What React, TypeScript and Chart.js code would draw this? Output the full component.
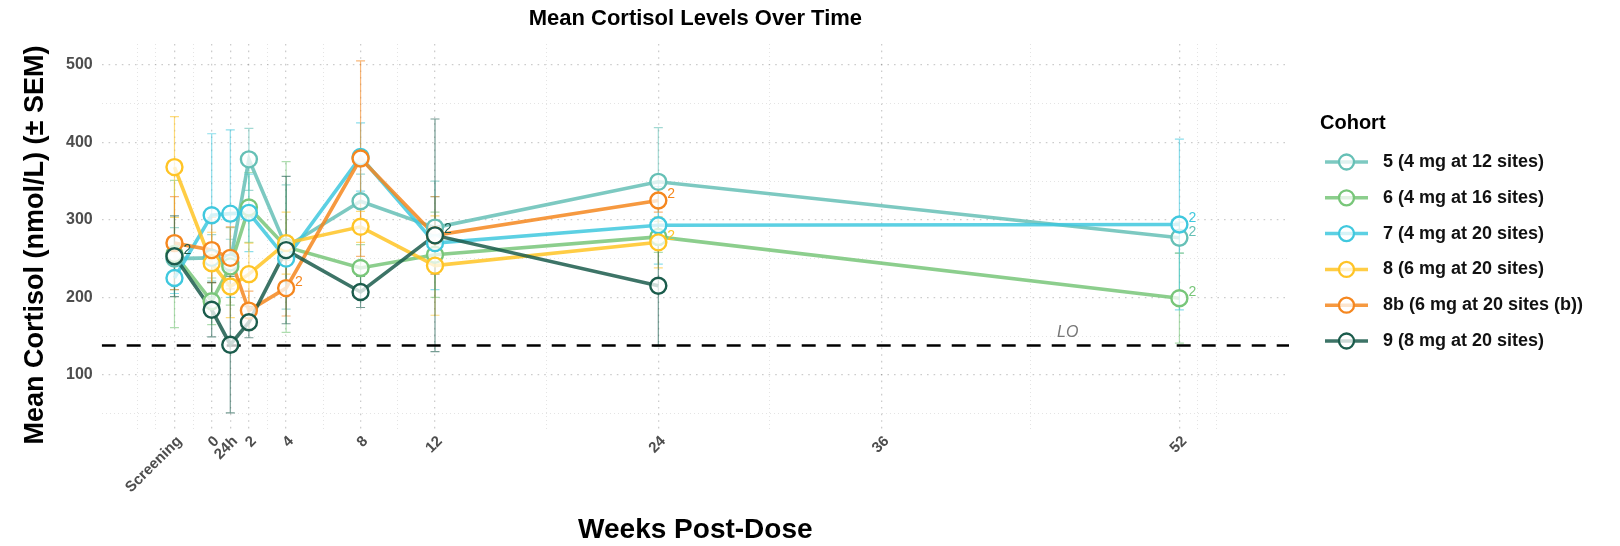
import React, { useEffect, useRef } from "react";
import { Chart, registerables } from "chart.js";

Chart.register(...registerables);

// ---------- data ----------
const weekValues = [-2, 0, 1, 2, 4, 8, 12, 24, 52];
const tickValues = [-2, 0, 1, 2, 4, 8, 12, 24, 36, 52];
const tickLabels = ["Screening", "0", "24h", "2", "4", "8", "12", "24", "36", "52"];
const minorGridValues = [-4, -3, -1, 3, 6, 10, 18, 30, 44, 53, 54];
const yTickValues = [100, 200, 300, 400, 500];
const yMinorValues = [50, 150, 250, 350, 450];

const cohortNames = [
  "5 (4 mg at 12 sites)",
  "6 (4 mg at 16 sites)",
  "7 (4 mg at 20 sites)",
  "8 (6 mg at 20 sites)",
  "8b (6 mg at 20 sites (b))",
  "9 (8 mg at 20 sites)",
];
const cohortColors = ["#66c0b6", "#78c679", "#40c8de", "#ffc425", "#f5871f", "#1b5c4c"];

const cohort5Mean = [250, 251, 245, 378, 265, 324, 290, 349, 277];
const cohort5Sem = [40, 30, 30, 40, 80, 35, 60, 70, 20];
const cohort6Mean = [256, 195, 240, 316, 265, 238, 255, 278, 199];
const cohort6Sem = [95, 30, 50, 45, 110, 30, 55, 20, 58];
const cohort7Mean = [225, 306, 308, 309, 250, 381, 270, 293, 294];
const cohort7Sem = [20, 105, 108, 50, 30, 44, 60, 50, 110];
const cohort8Mean = [368, 244, 214, 230, 270, 291, 241, 271, null];
const cohort8Sem = [65, 40, 40, 40, 40, 20, 64, 33, null];
const cohort8bMean = [270, 261, 251, 183, 212, 379, 280, 325, null];
const cohort8bSem = [60, 42, 40, 25, 36, 126, 50, 15, null];
const cohort9Mean = [253, 184, 139, 168, 261, 207, 280, 215, null];
const cohort9Sem = [52, 35, 88, 20, 95, 20, 150, 78, null];

const cohort5Notes = [52];
const cohort6Notes = [52];
const cohort7Notes = [52];
const cohort8Notes = [24];
const cohort8bNotes = [4, 24];
const cohort9Notes = [-2, 12];

const loqValue = 138;
const loqLabel = "LO";
const loqLabelWeek = 46;
const loqLabelValue = 155;

const means = [cohort5Mean, cohort6Mean, cohort7Mean, cohort8Mean, cohort8bMean, cohort9Mean];
const sems = [cohort5Sem, cohort6Sem, cohort7Sem, cohort8Sem, cohort8bSem, cohort9Sem];
const notes = [cohort5Notes, cohort6Notes, cohort7Notes, cohort8Notes, cohort8bNotes, cohort9Notes];

const FONT = '"Liberation Sans", Arial, Helvetica, sans-serif';

function withAlpha(hex: string, a: number) {
  const n = parseInt(hex.slice(1), 16);
  return `rgba(${(n >> 16) & 255},${(n >> 8) & 255},${n & 255},${a})`;
}

const errorBarPlugin = {
  id: "errorBars",
  beforeDatasetsDraw(chart: any) {
    const { ctx, chartArea, scales } = chart;
    const xs = scales.x, ys = scales.y;
    ctx.save();
    ctx.beginPath();
    ctx.rect(chartArea.left, chartArea.top, chartArea.right - chartArea.left, chartArea.bottom - chartArea.top);
    ctx.clip();
    means.forEach((m, i) => {
      ctx.strokeStyle = withAlpha(cohortColors[i], 0.6);
      ctx.lineWidth = 1.2;
      m.forEach((v, j) => {
        const s = sems[i][j];
        if (v == null || s == null) return;
        const px = xs.getPixelForValue(weekValues[j]);
        const y1 = ys.getPixelForValue(v + s);
        const y2 = ys.getPixelForValue(v - s);
        ctx.beginPath();
        ctx.moveTo(px, y1);
        ctx.lineTo(px, y2);
        ctx.moveTo(px - 4.5, y1);
        ctx.lineTo(px + 4.5, y1);
        ctx.moveTo(px - 4.5, y2);
        ctx.lineTo(px + 4.5, y2);
        ctx.stroke();
      });
    });
    // LOQ dashed line
    const ly = ys.getPixelForValue(loqValue);
    ctx.setLineDash([14, 11]);
    ctx.strokeStyle = "#000";
    ctx.lineWidth = 2.6;
    ctx.beginPath();
    ctx.moveTo(chartArea.left, ly);
    ctx.lineTo(chartArea.right, ly);
    ctx.stroke();
    ctx.setLineDash([]);
    ctx.restore();
  },
  afterDatasetsDraw(chart: any) {
    const { ctx, scales } = chart;
    const xs = scales.x, ys = scales.y;
    ctx.save();
    ctx.font = `14px ${FONT}`;
    ctx.textAlign = "left";
    ctx.textBaseline = "middle";
    notes.forEach((arr, i) => {
      ctx.fillStyle = cohortColors[i];
      arr.forEach((wk) => {
        const j = weekValues.indexOf(wk);
        const v = means[i][j];
        if (v == null) return;
        ctx.fillText("2", xs.getPixelForValue(wk) + 9, ys.getPixelForValue(v) - 6);
      });
    });
    ctx.fillStyle = "#777";
    ctx.font = `italic 16px ${FONT}`;
    ctx.textAlign = "center";
    ctx.fillText(loqLabel, xs.getPixelForValue(loqLabelWeek), ys.getPixelForValue(loqLabelValue));
    ctx.restore();
  },
  afterDraw(chart: any) {
    const { ctx, chartArea } = chart;
    ctx.save();
    ctx.fillStyle = "#000";
    ctx.textBaseline = "middle";
    ctx.textAlign = "center";
    const cx = (chartArea.left + chartArea.right) / 2;
    ctx.font = `bold 22px ${FONT}`;
    ctx.fillText("Mean Cortisol Levels Over Time", cx, 19);
    ctx.font = `bold 28px ${FONT}`;
    ctx.fillText("Weeks Post-Dose", cx, 530);
    ctx.save();
    ctx.translate(36, 245);
    ctx.rotate(-Math.PI / 2);
    ctx.font = `bold 27px ${FONT}`;
    ctx.fillText("Mean Cortisol (nmol/L) (± SEM)", 0, 0);
    ctx.restore();

    // legend
    ctx.textAlign = "left";
    ctx.font = `bold 20px ${FONT}`;
    ctx.fillText("Cohort", 1320, 123);
    ctx.font = `bold 18px ${FONT}`;
    cohortNames.forEach((name, i) => {
      const y = 162 + i * 35.8;
      const c = cohortColors[i];
      ctx.strokeStyle = withAlpha(c, 0.85);
      ctx.lineWidth = 3.5;
      ctx.beginPath();
      ctx.moveTo(1325, y);
      ctx.lineTo(1368, y);
      ctx.stroke();
      ctx.beginPath();
      ctx.arc(1346.5, y, 7.5, 0, Math.PI * 2);
      ctx.fillStyle = "rgba(255,255,255,0.75)";
      ctx.fill();
      ctx.strokeStyle = c;
      ctx.lineWidth = 2.3;
      ctx.stroke();
      ctx.fillStyle = "#111";
      ctx.fillText(name, 1383, y);
    });
    ctx.restore();
  },
};

export default function App() {
  const ref = useRef<HTMLCanvasElement>(null);
  useEffect(() => {
    if (!ref.current) return;
    const lineSets = means.map((m, i) => ({
      label: cohortNames[i],
      data: weekValues
        .map((x, j) => ({ x, y: m[j] }))
        .filter((p) => p.y != null),
      borderColor: withAlpha(cohortColors[i], 0.85),
      borderWidth: 3.6,
      pointRadius: 0,
      fill: false,
      tension: 0,
      order: 20 - i,
    }));
    const pointSets = means.map((m, i) => ({
      label: cohortNames[i] + " points",
      data: weekValues
        .map((x, j) => ({ x, y: m[j] }))
        .filter((p) => p.y != null),
      showLine: false,
      pointRadius: 8,
      pointBorderWidth: 2.4,
      pointBorderColor: cohortColors[i],
      pointBackgroundColor: "rgba(255,255,255,0.75)",
      borderColor: cohortColors[i],
      order: 5 - i,
    }));
    const isMajorX = (v: number) => tickValues.includes(v);
    const isMajorY = (v: number) => yTickValues.includes(v);
    const chart = new Chart(ref.current, {
      type: "line",
      data: { datasets: [...lineSets, ...pointSets] as any },
      options: {
        animation: false,
        responsive: true,
        maintainAspectRatio: false,
        layout: { padding: { top: 44, right: 331, left: 0, bottom: 0 } },
        plugins: {
          legend: { display: false },
          title: { display: false },
          tooltip: { enabled: false },
        },
        scales: {
          x: {
            type: "linear",
            min: -5.91,
            max: 57.89,
            afterBuildTicks: (s: any) => {
              s.ticks = [...tickValues, ...minorGridValues].sort((a, b) => a - b).map((v) => ({ value: v }));
            },
            afterFit: (s: any) => {
              s.height = 115.5;
            },
            ticks: {
              autoSkip: false,
              minRotation: 45,
              maxRotation: 45,
              padding: 2,
              labelOffset: 5,
              color: "#4d4d4d",
              font: { family: FONT, size: 15, weight: "bold" },
              callback: (v: any) => {
                const k = tickValues.indexOf(Number(v));
                return k >= 0 ? tickLabels[k] : "";
              },
            },
            grid: {
              drawTicks: false,
              color: (c: any) => (isMajorX(c.tick?.value) ? "rgba(0,0,0,0.2)" : "rgba(0,0,0,0.12)"),
              lineWidth: (c: any) => (isMajorX(c.tick?.value) ? 1.3 : 0.9),
            },
            border: { display: false, dash: (c: any) => (isMajorX(c.tick?.value) ? [1.6, 5] : [1, 3]) },
          } as any,
          y: {
            type: "linear",
            min: 28.4,
            max: 526.7,
            afterBuildTicks: (s: any) => {
              s.ticks = [...yMinorValues, ...yTickValues].sort((a, b) => a - b).map((v) => ({ value: v }));
            },
            afterFit: (s: any) => {
              s.width = 101.7;
            },
            ticks: {
              padding: 9,
              color: "#4d4d4d",
              font: { family: FONT, size: 16, weight: "bold" },
              callback: (v: any) => (isMajorY(Number(v)) ? String(v) : ""),
            },
            grid: {
              drawTicks: false,
              color: (c: any) => (isMajorY(c.tick?.value) ? "rgba(0,0,0,0.2)" : "rgba(0,0,0,0.12)"),
              lineWidth: (c: any) => (isMajorY(c.tick?.value) ? 1.3 : 0.9),
            },
            border: { display: false, dash: (c: any) => (isMajorY(c.tick?.value) ? [1.6, 5] : [1, 3]) },
          } as any,
        },
      },
      plugins: [errorBarPlugin],
    });
    return () => chart.destroy();
  }, []);
  return (
    <div style={{ position: "absolute", left: 0, top: 0, width: 1620, height: 546, background: "#fff" }}>
      <canvas ref={ref} style={{ display: "block" }} />
    </div>
  );
}
